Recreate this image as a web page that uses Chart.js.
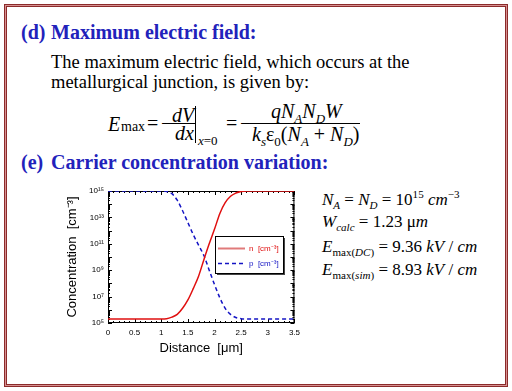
<!DOCTYPE html>
<html>
<head>
<meta charset="utf-8">
<script src="https://cdn.jsdelivr.net/npm/chart.js@4.4.0/dist/chart.umd.min.js"></script>
<style>
html, body { margin: 0; padding: 0; background: #fff; }
body { width: 512px; height: 391px; position: relative; overflow: hidden; font-family: "Liberation Serif", "Times New Roman", serif; color: #000; }
#frame { position: absolute; left: 4px; top: 4px; width: 504px; height: 383px; box-sizing: border-box; border: 1px solid #8b2b2b; box-shadow: inset 0 0 0 1px #d79090, inset 0 0 0 2px #8b2b2b; }
.t { position: absolute; white-space: nowrap; }
.h { font-size: 20px; line-height: 20px; font-weight: bold; color: #2222bb; }
.b { font-size: 18.5px; line-height: 18.5px; }
.q { font-size: 20px; line-height: 20px; }
.r { font-size: 17px; line-height: 17px; }
sub, sup { font-size: 65%; line-height: 0; }
.r sub { vertical-align: -0.35em; }
.ln { position: absolute; background: #000; height: 1px; }
#chartBox { position: absolute; left: 55px; top: 180px; width: 250px; height: 180px; }
</style>
</head>
<body>
<div id="frame"></div>

<div class="t h" style="left:21px;top:22px">(d)</div>
<div class="t h" style="left:51px;top:22px">Maximum electric field:</div>
<div class="t b" style="left:51px;top:52.5px">The maximum electric field, which occurs at the</div>
<div class="t b" style="left:51px;top:72.5px">metallurgical junction, is given by:</div>

<!-- equation -->
<div class="t q" style="left:108px;top:114px"><i>E</i></div>
<div class="t" style="left:121px;top:120px;font-size:14px;line-height:14px">max</div>
<div class="t q" style="left:147px;top:113px">=</div>
<div class="t q" style="left:161px;top:113px">−</div>
<div class="t q" style="left:172px;top:104.5px"><i>dV</i></div>
<div class="ln" style="left:171px;top:123px;width:24px"></div>
<div class="t q" style="left:175px;top:122.5px"><i>dx</i></div>
<div class="ln" style="left:195px;top:106px;width:1px;height:37px"></div>
<div class="t" style="left:198px;top:134px;font-size:13px;line-height:13px"><i>x</i>=0</div>
<div class="t q" style="left:226px;top:113px">=</div>
<div class="t q" style="left:240px;top:113px">−</div>
<div class="t q" style="left:271px;top:100.5px"><i>qN</i><sub><i>A</i></sub><i>N</i><sub><i>D</i></sub><i>W</i></div>
<div class="ln" style="left:250px;top:123px;width:110px"></div>
<div class="t q" style="left:252px;top:123.5px"><i>k</i><sub><i>s</i></sub>ε<sub>0</sub>(<i>N</i><sub><i>A</i></sub> + <i>N</i><sub><i>D</i></sub>)</div>

<div class="t h" style="left:21px;top:151.5px">(e)</div>
<div class="t h" style="left:51px;top:151.5px">Carrier concentration variation:</div>

<div class="t r" style="left:322px;top:191px"><i>N</i><sub><i>A</i></sub> = <i>N</i><sub><i>D</i></sub> = 10<sup>15</sup> <i>cm</i><sup>−3</sup></div>
<div class="t r" style="left:322px;top:212.5px"><i>W</i><sub><i>calc</i></sub> = 1.23 μ<i>m</i></div>
<div class="t r" style="left:322px;top:237.5px"><i>E</i><sub>max(<i>DC</i>)</sub> = 9.36 <i>kV</i> / <i>cm</i></div>
<div class="t r" style="left:322px;top:261px"><i>E</i><sub>max(<i>sim</i>)</sub> = 8.93 <i>kV</i> / <i>cm</i></div>

<div id="chartBox"><canvas id="myChart" width="250" height="180"></canvas></div>

<script>
// distance in um, concentrations in cm^-3
const distance = [0, 0.25, 0.5, 0.75, 1.0, 1.1, 1.2, 1.3, 1.4, 1.5, 1.6, 1.7, 1.8, 1.9, 2.0, 2.1, 2.2, 2.3, 2.4, 2.5, 2.6, 2.75, 3.0, 3.25, 3.5];
const electrons = [2.0e5, 2.0e5, 2.0e5, 2.0e5, 2.0e5, 2.1e5, 2.8e5, 4.5e5, 1.3e6, 5.6e6, 4.0e7, 3.5e8, 6.3e9, 1.0e11, 1.3e12, 2.0e13, 1.3e14, 4.0e14, 7.0e14, 9.3e14, 1e15, 1e15, 1e15, 1e15, 1e15];
const holes = [1e15, 1e15, 1e15, 1e15, 1e15, 9.3e14, 6.3e14, 2.0e14, 3.2e13, 4.0e12, 5.0e11, 7.9e10, 1.3e10, 1.0e9, 8.0e7, 8.0e6, 1.3e6, 4.5e5, 2.6e5, 2.1e5, 2.0e5, 2.0e5, 2.0e5, 2.0e5, 2.0e5];
const seriesLabels = ['n  [cm⁻³]', 'p  [cm⁻³]'];
const yTickValues = [1e5, 1e7, 1e9, 1e11, 1e13, 1e15];
const yTickLabels = ['10⁵', '10⁷', '10⁹', '10¹¹', '10¹³', '10¹⁵'];

window.addEventListener('load', setup);

// box with inward ticks on all four sides
const frameTicks = {
    id: 'frameTicks',
    beforeDatasetsDraw(chart) {
        const { ctx, chartArea: a, scales: { x, y } } = chart;
        ctx.save();
        ctx.strokeStyle = '#000';
        ctx.lineWidth = 1;
        ctx.strokeRect(a.left + 0.5, a.top + 0.5, a.right - a.left - 1, a.bottom - a.top - 1);
        ctx.beginPath();
        for (let i = 0; i <= 35; i++) {
            const px = Math.round(x.getPixelForValue(i / 10)) + 0.5;
            const len = i % 5 === 0 ? 4 : 2;
            ctx.moveTo(px, a.bottom); ctx.lineTo(px, a.bottom - len);
            ctx.moveTo(px, a.top); ctx.lineTo(px, a.top + len);
        }
        for (let e = 5; e < 15; e++) {
            for (let m = 1; m < 10; m++) {
                const py = Math.round(y.getPixelForValue(m * Math.pow(10, e))) + 0.5;
                const len = m === 1 ? 4 : 2;
                ctx.moveTo(a.left, py); ctx.lineTo(a.left + len, py);
                ctx.moveTo(a.right, py); ctx.lineTo(a.right - len, py);
            }
        }
        ctx.stroke();
        ctx.restore();
    }
};

// legend box drawn inside the plot, with drop shadow
const boxLegend = {
    id: 'boxLegend',
    afterDatasetsDraw(chart) {
        const { ctx, chartArea: a } = chart;
        const w = a.right - a.left, h = a.bottom - a.top;
        const x0 = Math.round(a.left + w * 0.573), x1 = Math.round(a.left + w * 0.941);
        const y0 = Math.round(a.top + h * 0.343), y1 = Math.round(a.top + h * 0.621);
        ctx.save();
        ctx.fillStyle = '#444';
        ctx.fillRect(x0 + 2, y0 + 2, x1 - x0, y1 - y0);
        ctx.fillStyle = '#fff';
        ctx.fillRect(x0, y0, x1 - x0, y1 - y0);
        ctx.strokeStyle = '#000';
        ctx.lineWidth = 1;
        ctx.strokeRect(x0 + 0.5, y0 + 0.5, x1 - x0, y1 - y0);
        chart.data.datasets.forEach((ds, i) => {
            const ly = Math.round(y0 + (y1 - y0) * (0.32 + 0.41 * i)) + 0.5;
            ctx.strokeStyle = ds.legendColor || ds.borderColor;
            ctx.lineWidth = ds.legendWidth || 1.5;
            ctx.setLineDash(ds.borderDash || []);
            ctx.beginPath();
            ctx.moveTo(x0 + 3, ly);
            ctx.lineTo(x0 + 30, ly);
            ctx.stroke();
            ctx.fillStyle = ds.borderColor;
            ctx.font = '8px "Liberation Sans", Arial, sans-serif';
            ctx.textBaseline = 'middle';
            ctx.fillText(ds.label, x0 + 34, ly);
        });
        ctx.restore();
    }
};

function setup() {
    const ctx = document.getElementById('myChart').getContext('2d');
    const myChart = new Chart(ctx, {
        type: 'line',
        data: {
            labels: distance,
            datasets: [
                {
                    label: seriesLabels[0],
                    data: distance.map((d, i) => ({ x: d, y: electrons[i] })),
                    borderColor: '#e01010',
                    legendColor: '#e07a7a',
                    legendWidth: 2,
                    borderWidth: 1.5,
                    pointRadius: 0,
                    fill: false,
                    cubicInterpolationMode: 'monotone'
                },
                {
                    label: seriesLabels[1],
                    data: distance.map((d, i) => ({ x: d, y: holes[i] })),
                    borderColor: '#1414c4',
                    borderDash: [4, 3],
                    borderWidth: 1.5,
                    pointRadius: 0,
                    fill: false,
                    cubicInterpolationMode: 'monotone'
                }
            ]
        },
        options: {
            responsive: false,
            animation: false,
            layout: { padding: { left: 0, right: 9, top: 11, bottom: 0 } },
            plugins: { legend: { display: false }, tooltip: { enabled: false } },
            scales: {
                x: {
                    type: 'linear',
                    min: 0,
                    max: 3.5,
                    grid: { display: false, drawTicks: false },
                    border: { display: false },
                    ticks: {
                        stepSize: 0.5,
                        padding: 5,
                        maxRotation: 0,
                        color: '#000',
                        font: { family: '"Liberation Sans", Arial, sans-serif', size: 8 },
                        callback: (value) => String(value)
                    },
                    title: {
                        display: true,
                        text: 'Distance  [μm]',
                        color: '#000',
                        padding: { top: 0, bottom: 4 },
                        font: { family: '"Liberation Sans", Arial, sans-serif', size: 13 }
                    },
                    afterFit(scale) { scale.height = 37; }
                },
                y: {
                    type: 'logarithmic',
                    min: 1e5,
                    max: 1e15,
                    grid: { display: false, drawTicks: false },
                    border: { display: false },
                    afterBuildTicks(scale) {
                        scale.ticks = yTickValues.map(v => ({ value: v }));
                    },
                    ticks: {
                        padding: 4,
                        color: '#000',
                        font: { family: '"Liberation Sans", Arial, sans-serif', size: 8 },
                        callback: (value) => {
                            const idx = yTickValues.indexOf(value);
                            return idx >= 0 ? yTickLabels[idx] : '';
                        }
                    },
                    title: {
                        display: true,
                        text: 'Concentration  [cm⁻³]',
                        color: '#000',
                        padding: { top: 10, bottom: 0 },
                        font: { family: '"Liberation Sans", Arial, sans-serif', size: 13 }
                    },
                    afterFit(scale) { scale.width = 53; }
                }
            }
        },
        plugins: [frameTicks, boxLegend]
    });
}
</script>
</body>
</html>
